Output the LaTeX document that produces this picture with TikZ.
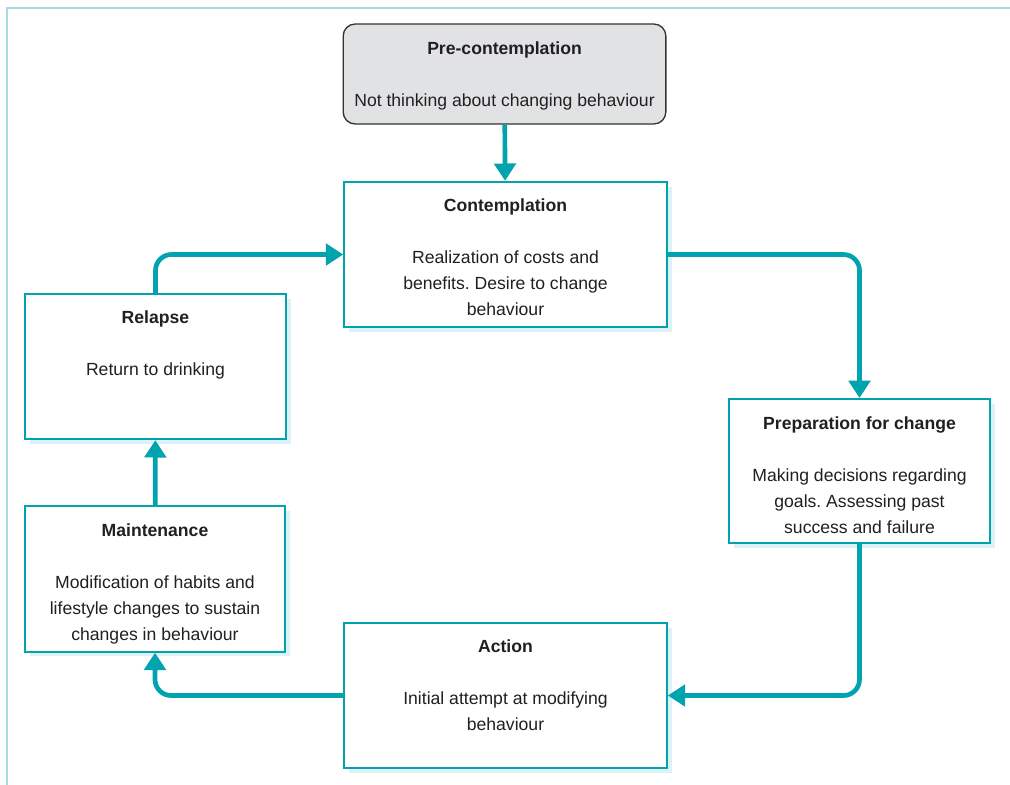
\documentclass[tikz,border=0pt]{standalone}
\usepackage{fontspec}
\setmainfont{Liberation Sans}
\frenchspacing
\usetikzlibrary{arrows.meta}
\usetikzlibrary{shadows}
\definecolor{stageteal}{HTML}{00A3AE}
\definecolor{shadeteal}{HTML}{BCE5EA}
\definecolor{framecol}{HTML}{A9DCE2}
\definecolor{pregray}{HTML}{E1E2E4}
\definecolor{inkgray}{HTML}{231F20}
\newcommand{\stagetext}[4]{\parbox[c][#1][t]{#2}{\centering\vspace*{13pt}\textbf{#3}\\[19.5pt]#4}}

\begin{document}
\begin{tikzpicture}[x=0.75pt,y=-0.75pt,>={Triangle[length=13pt,width=16pt]}]
			\tikzset{stage/.style = {shape=rectangle, draw=stageteal, line width=1.5pt, fill=white, inner sep=0pt,
					text=inkgray, font=\fontsize{13.2}{19.5}\selectfont,
					drop shadow={shadow xshift=3.5pt, shadow yshift=-3.5pt, fill=shadeteal}}}
			\tikzset{prestage/.style = {shape=rectangle, rounded corners=9pt, draw=black!80, line width=1pt, fill=pregray, inner sep=0pt,
					text=inkgray, font=\fontsize{13.2}{19.5}\selectfont}}
			\tikzset{flow/.style = {->, draw=stageteal, line width=3.5pt, rounded corners=12pt}}
			
			\useasboundingbox (0,0) rectangle (1010,785);
			\draw[framecol, line width=1.2pt] (7,785) -- (7,8) -- (1010,8);
			
			\node[prestage] (PRE) at (504.5,74)
			{\stagetext{75pt}{242pt}{Pre-contemplation}{Not thinking about changing behaviour}};
			
			\node[stage] (CONTEMP) at (505.5,254.5)
			{\stagetext{109pt}{242pt}{Contemplation}{Realization of costs and\\benefits. Desire to change\\behaviour}};
			
			\node[stage] (PREP) at (859.5,471)
			{\stagetext{108pt}{196pt}{Preparation for change}{Making decisions regarding\\goals. Assessing past\\success and failure}};
			
			\node[stage] (ACTION) at (505.5,695.5)
			{\stagetext{109pt}{242pt}{Action}{Initial attempt at modifying\\behaviour}};
			
			\node[stage] (MAINT) at (155,579)
			{\stagetext{109pt}{195pt}{Maintenance}{Modification of habits and\\lifestyle changes to sustain\\changes in behaviour}};
			
			\node[stage] (RELAPSE) at (155.5,366.5)
			{\stagetext{109pt}{196pt}{Relapse}{Return to drinking}};
			
			\draw[flow] (PRE) -- (CONTEMP);
			\draw[flow] (CONTEMP) -| (PREP);
			\draw[flow] (PREP) |- (ACTION);
			\draw[flow] (ACTION) -| (MAINT);
			\draw[flow] (MAINT) -- (RELAPSE);
			\draw[flow] (RELAPSE) |- (CONTEMP);
			
\end{tikzpicture}
\end{document}
